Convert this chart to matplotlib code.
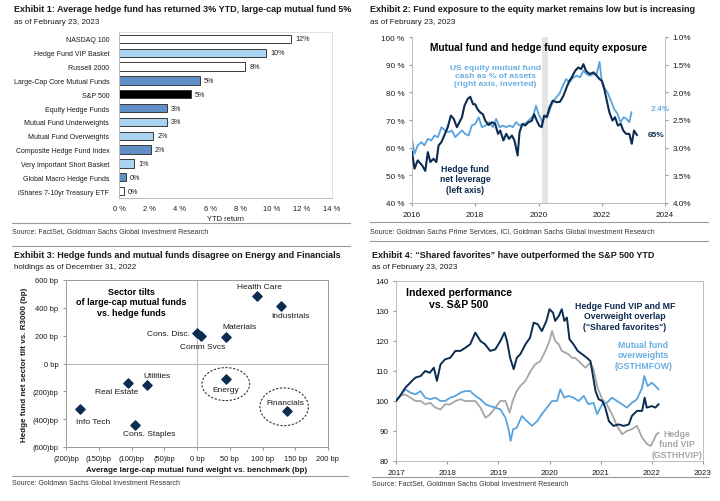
import matplotlib
matplotlib.use("Agg")
import matplotlib.pyplot as plt
from matplotlib.lines import Line2D
from matplotlib.patches import Ellipse
from matplotlib.ticker import FuncFormatter, MultipleLocator

plt.rcParams['font.family'] = ['Liberation Sans', 'DejaVu Sans']

# ---------------- Data ----------------
# Exhibit 1
ex1_names = ["NASDAQ 100", "Hedge Fund VIP Basket", "Russell 2000", "Large-Cap Core Mutual Funds",
             "S&P 500", "Equity Hedge Funds", "Mutual Fund Underweights", "Mutual Fund Overweights",
             "Composite Hedge Fund Index", "Very Important Short Basket", "Global Macro Hedge Funds",
             "iShares 7-10yr Treasury ETF"]
ex1_values = [11.3, 9.65, 8.3, 5.3, 4.7, 3.15, 3.15, 2.25, 2.1, 1.0, 0.45, 0.33]
ex1_labels = ["12%", "10%", "8%", "5%", "5%", "3%", "3%", "2%", "2%", "1%", "0%", "0%"]
ex1_kind = ["index", "hf", "index", "mf", "spx", "mf", "hf", "hf", "mf", "hf", "mf", "index"]

# Exhibit 2
hf_lev_t = [2016.0, 2016.08, 2016.18, 2016.32, 2016.42, 2016.5, 2016.58, 2016.68, 2016.77, 2016.84,
            2016.93, 2017.02, 2017.13, 2017.23, 2017.32, 2017.42, 2017.5, 2017.58, 2017.66, 2017.76,
            2017.84, 2017.93, 2018.0, 2018.07, 2018.16, 2018.24, 2018.32, 2018.42, 2018.53, 2018.63,
            2018.72, 2018.79, 2018.89, 2018.98, 2019.07, 2019.16, 2019.24, 2019.34, 2019.4, 2019.49,
            2019.58, 2019.68, 2019.79, 2019.86, 2019.95, 2020.02, 2020.1, 2020.18, 2020.26, 2020.35,
            2020.45, 2020.58, 2020.68, 2020.79, 2020.89, 2020.98, 2021.05, 2021.16, 2021.26, 2021.35,
            2021.42, 2021.5, 2021.61, 2021.74, 2021.84, 2021.93, 2022.0, 2022.08, 2022.16, 2022.24,
            2022.34, 2022.42, 2022.51, 2022.6, 2022.68, 2022.77, 2022.87, 2022.95, 2023.02, 2023.11]
hf_lev_v = [58.4, 52.4, 55.4, 53.6, 51.6, 58.4, 54.8, 56.0, 54.8, 60.8,
            62.0, 64.4, 67.4, 71.6, 70.4, 67.4, 69.2, 71.0, 75.2, 77.6,
            78.4, 75.7, 75.7, 73.9, 72.7, 72.1, 69.7, 68.2, 69.2, 68.6,
            65.0, 66.2, 62.6, 65.0, 63.2, 64.4, 62.6, 57.2, 65.6, 68.6,
            68.0, 69.2, 69.7, 72.1, 69.7, 68.0, 67.4, 71.6, 71.0, 74.6,
            77.0, 76.4, 76.6, 78.8, 81.8, 84.2, 85.4, 87.8, 89.0, 88.4,
            90.2, 87.8, 86.6, 87.2, 86.0, 84.8, 84.2, 81.2, 77.0, 72.8,
            69.8, 71.0, 68.0, 68.6, 66.2, 65.0, 65.0, 61.4, 66.2, 64.6]
mf_cash_t = [2016.0, 2016.08, 2016.18, 2016.3, 2016.39, 2016.5, 2016.61, 2016.71, 2016.82, 2016.93,
             2017.05, 2017.16, 2017.26, 2017.37, 2017.47, 2017.58, 2017.68, 2017.79, 2017.89, 2018.0,
             2018.11, 2018.21, 2018.32, 2018.45, 2018.56, 2018.66, 2018.77, 2018.87, 2018.98, 2019.08,
             2019.19, 2019.29, 2019.4, 2019.53, 2019.63, 2019.74, 2019.84, 2019.92, 2020.0, 2020.08,
             2020.19, 2020.26, 2020.35, 2020.45, 2020.56, 2020.66, 2020.77, 2020.87, 2020.98, 2021.1,
             2021.21, 2021.31, 2021.42, 2021.52, 2021.63, 2021.74, 2021.84, 2021.93, 2022.0, 2022.08,
             2022.18, 2022.29, 2022.39, 2022.5, 2022.59, 2022.7, 2022.78, 2022.87, 2022.94]
mf_cash_v = [2.84, 3.11, 2.96, 2.90, 2.96, 2.84, 2.87, 2.78, 2.81, 2.63,
             2.69, 2.72, 2.69, 2.81, 2.75, 2.69, 2.75, 2.78, 2.60, 2.57,
             2.45, 2.63, 2.60, 2.54, 2.63, 2.48, 2.63, 2.60, 2.63, 2.60,
             2.63, 2.54, 2.60, 2.57, 2.54, 2.48, 2.42, 2.24, 2.39, 2.48,
             2.72, 2.48, 2.33, 2.18, 2.09, 2.03, 1.88, 1.76, 1.82, 1.73,
             1.70, 1.73, 1.61, 1.67, 1.70, 1.67, 1.67, 1.45, 1.79, 1.91,
             2.00, 2.15, 2.30, 2.39, 2.54, 2.45, 2.48, 2.54, 2.36]

# Exhibit 3
sectors = ["Health Care", "Industrials", "Cons. Disc.", "Comm Svcs", "Materials", "Utilities",
           "Real Estate", "Energy", "Info Tech", "Cons. Staples", "Financials"]
mf_weight = [92, 128, 0.5, 6, 45, -76, -106, 44, -178, -95, 138]
hf_tilt = [483, 411, 218, 199, 194, -151, -139, -112, -330, -440, -344]

# Exhibit 4
sf_t = [2017.0, 2017.08, 2017.18, 2017.25, 2017.31, 2017.38, 2017.48, 2017.57, 2017.66, 2017.74,
        2017.8, 2017.87, 2017.96, 2018.06, 2018.16, 2018.26, 2018.36, 2018.45, 2018.55, 2018.65,
        2018.74, 2018.84, 2018.94, 2019.04, 2019.12, 2019.17, 2019.23, 2019.3, 2019.36, 2019.43,
        2019.53, 2019.62, 2019.69, 2019.77, 2019.85, 2019.94, 2020.0, 2020.07, 2020.11, 2020.18,
        2020.24, 2020.29, 2020.34, 2020.39, 2020.47, 2020.55, 2020.64, 2020.73, 2020.8, 2020.85,
        2020.9, 2020.96, 2021.03, 2021.09, 2021.16, 2021.25, 2021.35, 2021.45, 2021.55, 2021.61,
        2021.71, 2021.81, 2021.86, 2021.9, 2022.0, 2022.07, 2022.13]
sf_v = [100.0, 101.7, 104.4, 105.6, 106.7, 107.8, 108.3, 110.0, 109.4, 111.1,
        106.7, 112.2, 113.9, 114.4, 116.7, 116.7, 117.8, 118.9, 122.8, 120.0,
        118.9, 116.7, 117.2, 120.0, 122.8, 120.0, 114.4, 110.6, 114.4, 115.6,
        118.9, 121.1, 126.1, 125.6, 123.3, 126.7, 130.6, 129.4, 126.7, 128.3,
        130.6, 126.7, 127.8, 120.6, 118.9, 116.7, 115.6, 114.4, 113.3, 108.3,
        103.3, 100.6, 100.0, 97.8, 93.3, 91.7, 92.2, 91.7, 92.2, 95.0,
        96.7, 96.7, 101.1, 97.8, 98.3, 97.8, 98.9]
mfow_t = [2017.0, 2017.08, 2017.18, 2017.28, 2017.38, 2017.48, 2017.57, 2017.67, 2017.77, 2017.87,
          2017.96, 2018.06, 2018.16, 2018.26, 2018.35, 2018.45, 2018.55, 2018.65, 2018.75, 2018.84,
          2018.94, 2019.04, 2019.14, 2019.2, 2019.24, 2019.29, 2019.36, 2019.46, 2019.56, 2019.66,
          2019.76, 2019.85, 2019.95, 2020.05, 2020.15, 2020.21, 2020.29, 2020.37, 2020.47, 2020.57,
          2020.67, 2020.76, 2020.86, 2020.93, 2021.03, 2021.12, 2021.22, 2021.32, 2021.42, 2021.51,
          2021.61, 2021.71, 2021.81, 2021.85, 2021.92, 2022.0, 2022.07, 2022.13]
mfow_v = [100.0, 101.7, 103.9, 102.8, 102.2, 103.3, 101.1, 100.6, 101.1, 100.0,
          100.0, 101.1, 101.7, 102.8, 103.3, 103.3, 101.7, 100.6, 98.9, 98.3,
          97.8, 97.2, 94.4, 90.6, 86.7, 90.6, 91.1, 95.0, 93.3, 91.7,
          93.3, 95.6, 97.8, 100.0, 100.0, 103.9, 101.1, 101.7, 101.1, 100.0,
          101.7, 98.9, 99.4, 95.6, 98.9, 99.4, 101.1, 100.0, 98.9, 97.8,
          99.4, 100.6, 104.4, 108.3, 105.0, 106.1, 105.0, 103.9]
vip_t = [2017.0, 2017.08, 2017.18, 2017.28, 2017.38, 2017.48, 2017.57, 2017.67, 2017.77, 2017.87,
         2017.96, 2018.06, 2018.16, 2018.26, 2018.35, 2018.45, 2018.55, 2018.65, 2018.75, 2018.84,
         2018.94, 2019.04, 2019.14, 2019.22, 2019.28, 2019.36, 2019.43, 2019.53, 2019.63, 2019.72,
         2019.82, 2019.92, 2020.0, 2020.05, 2020.11, 2020.18, 2020.24, 2020.31, 2020.37, 2020.44,
         2020.5, 2020.6, 2020.7, 2020.8, 2020.86, 2020.94, 2021.03, 2021.12, 2021.22, 2021.32,
         2021.42, 2021.51, 2021.61, 2021.71, 2021.81, 2021.91, 2021.98, 2022.03, 2022.09, 2022.13]
vip_v = [100.0, 101.7, 102.2, 101.1, 100.0, 100.0, 98.9, 99.4, 97.8, 97.2,
         98.9, 98.9, 100.0, 100.6, 100.0, 100.0, 100.0, 97.8, 94.4, 95.6,
         97.8, 100.0, 100.0, 96.1, 100.0, 103.3, 105.0, 106.7, 110.0, 112.2,
         113.3, 116.7, 120.0, 123.3, 120.0, 118.9, 116.7, 116.1, 115.6, 114.4,
         114.4, 112.8, 111.1, 112.8, 110.6, 104.4, 100.6, 98.9, 95.6, 91.7,
         88.9, 90.0, 90.6, 91.7, 87.8, 85.6, 85.0, 86.7, 88.9, 89.4]

# ---------------- Styles ----------------
NAVY = "#0c2b50"
LBLUE = "#5aa3dc"
LBLUE_TXT = "#6aafe2"
GRAY = "#a6a6a6"
MBLUE = "#5f8fc6"
PALEBLUE = "#a9d3f1"
TXT = "#1a1a1a"

W, H = 720, 502
fig = plt.figure(figsize=(W / 100, H / 100), dpi=100)


def ax_px(l, t, r, b):
    return fig.add_axes([l / W, 1 - b / H, (r - l) / W, (b - t) / H])


def ftext(x, y, s, **kw):
    fig.text(x / W, 1 - y / H, s, **kw)


def hline(x0, x1, y, color="#9a9a9a", lw=0.8):
    fig.add_artist(Line2D([x0 / W, x1 / W], [1 - y / H, 1 - y / H], color=color, lw=lw))


TFS = 6.45  # title font size
SFS = 5.75  # subtitle
TKS = 5.4   # ticks
SRC = 5.05
LS = 1.22   # line spacing of multi-line annotations

# ---------- headers ----------
ftext(14, 10, "Exhibit 1: Average hedge fund has returned 3% YTD, large-cap mutual fund 5%",
      fontsize=TFS, fontweight="bold", va="center", color=TXT)
ftext(14, 22, "as of February 23, 2023", fontsize=SFS, va="center", color=TXT)
ftext(370, 10, "Exhibit 2: Fund exposure to the equity market remains low but is increasing",
      fontsize=TFS, fontweight="bold", va="center", color=TXT)
ftext(370, 22, "as of February 23, 2023", fontsize=SFS, va="center", color=TXT)
ftext(14, 255, "Exhibit 3: Hedge funds and mutual funds disagree on Energy and Financials",
      fontsize=TFS, fontweight="bold", va="center", color=TXT)
ftext(14, 268, "holdings as of December 31, 2022", fontsize=SFS, va="center", color=TXT)
ftext(372, 255, "Exhibit 4: \u201cShared favorites\u201d have outperformed the S&P 500 YTD",
      fontsize=TFS, fontweight="bold", va="center", color=TXT)
ftext(372, 268, "as of February 23, 2023", fontsize=SFS, va="center", color=TXT)

hline(12, 350, 224)
hline(12, 350, 247)
hline(370, 708, 223)
hline(370, 708, 242)
hline(12, 348, 477)
hline(372, 708, 478)
ftext(12, 232, "Source: FactSet, Goldman Sachs Global Investment Research", fontsize=SRC,
      va="center", color="#333333")
ftext(370, 232, "Source: Goldman Sachs Prime Services, ICI, Goldman Sachs Global Investment Research",
      fontsize=SRC, va="center", color="#333333")
ftext(12, 484, "Source: Goldman Sachs Global Investment Research", fontsize=SRC,
      va="center", color="#333333")
ftext(372, 484, "Source: FactSet, Goldman Sachs Global Investment Research", fontsize=SRC,
      va="center", color="#333333")

# ---------- Exhibit 1 ----------
ax1 = ax_px(119, 33, 332, 199)
colmap = {"index": "white", "hf": PALEBLUE, "mf": MBLUE, "spx": "black"}
ypos = list(range(len(ex1_names)))
ax1.barh(ypos, ex1_values, height=0.6, color=[colmap[k] for k in ex1_kind],
         edgecolor="#3a3a3a", linewidth=0.7)
for y, v, lab in zip(ypos, ex1_values, ex1_labels):
    ax1.annotate(lab, (v, y), xytext=(3, 0), textcoords="offset points", va="center",
                 ha="left", fontsize=5.2, color=TXT)
ax1.set_ylim(len(ex1_names) - 0.5, -0.5)
ax1.set_xlim(0, 14)
ax1.set_yticks(ypos)
ax1.set_yticklabels(ex1_names, fontsize=5.0, color=TXT)
ax1.xaxis.set_major_locator(MultipleLocator(2))
ax1.xaxis.set_major_formatter(FuncFormatter(lambda v, p: f"{v:.0f} %"))
ax1.tick_params(axis="x", labelsize=TKS, length=0, pad=5, colors=TXT)
ax1.tick_params(axis="y", length=0, pad=7)
for s in ["top", "right"]:
    ax1.spines[s].set_color("#dddddd")
    ax1.spines[s].set_linewidth(0.6)
ax1.spines["left"].set_color("#bbbbbb")
ax1.spines["bottom"].set_color("#bbbbbb")
ax1.spines["left"].set_linewidth(0.7)
ax1.spines["bottom"].set_linewidth(0.7)
ax1.set_xlabel("YTD return", fontsize=TKS, color=TXT, labelpad=2)

# ---------- Exhibit 2 ----------
ax2 = ax_px(412, 38, 665, 204)
ax2.axvspan(2020.1, 2020.31, color="#e4e4e4", lw=0, zorder=0)
ax2.plot(hf_lev_t, hf_lev_v, color=NAVY, lw=1.5, zorder=3)
ax2.set_xlim(2016, 2024)
ax2.set_ylim(40, 100)
ax2.set_xticks([2016, 2018, 2020, 2022, 2024])
ax2.yaxis.set_major_locator(MultipleLocator(10))
ax2.yaxis.set_major_formatter(FuncFormatter(lambda v, p: f"{v:.0f} %"))
ax2.tick_params(labelsize=TKS + 0.5, colors=TXT, length=2, color="#999999")
ax2r = ax2.twinx()
ax2r.plot(mf_cash_t, mf_cash_v, color=LBLUE, lw=1.3, zorder=2)
ax2r.set_ylim(4.0, 1.0)
ax2r.yaxis.set_major_locator(MultipleLocator(0.5))
ax2r.yaxis.set_major_formatter(FuncFormatter(lambda v, p: f"{v:.1f}%"))
ax2r.tick_params(labelsize=TKS + 0.5, colors=TXT, length=2, color="#999999")
ax2.set_zorder(ax2r.get_zorder() + 1)
ax2.patch.set_visible(False)
for a in (ax2, ax2r):
    for s in a.spines.values():
        s.set_color("#bbbbbb")
        s.set_linewidth(0.7)
    a.spines["top"].set_visible(False)
ax2.text(0.5, 0.94, "Mutual fund and hedge fund equity exposure", transform=ax2.transAxes,
         ha="center", va="center", fontsize=7.3, fontweight="bold", color="black")
ax2.text(2018.63, 86.0, "US equity mutual fund\ncash as % of assets\n(right axis, inverted)",
         ha="center", va="center", fontsize=6.1, fontweight="bold", color=LBLUE_TXT,
         linespacing=LS)
ax2.text(2017.68, 48.7, "Hedge fund\nnet leverage\n(left axis)", ha="center", va="center",
         fontsize=6.2, fontweight="bold", color=NAVY, linespacing=LS)
ax2r.annotate("2.4%", (mf_cash_t[-1], mf_cash_v[-1]), xytext=(14, 3), textcoords="offset points",
              ha="left", va="center", fontsize=6.0, fontweight="bold", color=LBLUE_TXT)
ax2.annotate("65%", (hf_lev_t[-1], hf_lev_v[-1]), xytext=(8, 0), textcoords="offset points",
             ha="left", va="center", fontsize=6.0, fontweight="bold", color=NAVY)

# ---------- Exhibit 3 ----------
ax3 = ax_px(66, 281, 328, 448)
ax3.axhline(0, color="#bbbbbb", lw=0.8, zorder=1)
ax3.axvline(0, color="#bbbbbb", lw=0.8, zorder=1)
ax3.scatter(mf_weight, hf_tilt, marker="D", s=22, color=NAVY, zorder=3)
ax3.set_xlim(-200, 200)
ax3.set_ylim(-600, 600)
ax3.xaxis.set_major_locator(MultipleLocator(50))
ax3.yaxis.set_major_locator(MultipleLocator(200))


def bpfmt(v, p):
    if v < 0:
        return f"({-v:.0f})bp"
    return f"{v:.0f} bp"


ax3.xaxis.set_major_formatter(FuncFormatter(bpfmt))
ax3.yaxis.set_major_formatter(FuncFormatter(bpfmt))
ax3.tick_params(labelsize=TKS, colors=TXT, length=2, color="#999999")
for s in ax3.spines.values():
    s.set_color("#999999")
    s.set_linewidth(0.7)
ax3.set_xlabel("Average large-cap mutual fund weight vs. benchmark (bp)", fontsize=5.8,
               fontweight="bold", color=TXT, labelpad=3)
ax3.set_ylabel("Hedge fund net sector tilt vs. R3000 (bp)", fontsize=5.8, fontweight="bold",
               color=TXT, labelpad=3)
# label offsets in pixels (dx right, dy down) and alignment
lab_off = {"Health Care": (2, -10, "center"), "Industrials": (10, 9, "center"),
           "Cons. Disc.": (-7, 0, "right"), "Comm Svcs": (2, 11, "center"),
           "Materials": (13, -10, "center"), "Utilities": (10, -9, "center"),
           "Real Estate": (-11, 9, "center"), "Energy": (0, 10, "center"),
           "Info Tech": (13, 12, "center"), "Cons. Staples": (14, 9, "center"),
           "Financials": (-2, -9, "center")}
for name, x, y in zip(sectors, mf_weight, hf_tilt):
    dx, dy, ha = lab_off[name]
    ax3.annotate(name, (x, y), xytext=(dx * 0.72, -dy * 0.72), textcoords="offset points",
                 ha=ha, va="center", fontsize=6.0, color=TXT)
    if name == "Energy":
        ax3.add_patch(Ellipse((x, y - 36), 73, 237, fill=False, ls=(0, (2, 1.5)),
                              lw=0.8, color="#333333"))
    if name == "Financials":
        ax3.add_patch(Ellipse((x - 5, y + 33), 74, 271, fill=False, ls=(0, (2, 1.5)),
                              lw=0.8, color="#333333"))
ax3.text(0.248, 0.87, "Sector tilts\nof large-cap mutual funds\nvs. hedge funds",
         transform=ax3.transAxes, ha="center", va="center", fontsize=6.5, fontweight="bold",
         color="black", linespacing=LS)

# ---------- Exhibit 4 ----------
ax4 = ax_px(396, 282, 703, 462)
ax4.plot(vip_t, vip_v, color=GRAY, lw=1.3, zorder=2)
ax4.plot(mfow_t, mfow_v, color=LBLUE, lw=1.3, zorder=3)
ax4.plot(sf_t, sf_v, color=NAVY, lw=1.4, zorder=4)
ax4.set_xlim(2017, 2023)
ax4.set_ylim(80, 140)
ax4.xaxis.set_major_locator(MultipleLocator(1))
ax4.yaxis.set_major_locator(MultipleLocator(10))
ax4.xaxis.set_major_formatter(FuncFormatter(lambda v, p: f"{v:.0f}"))
ax4.tick_params(labelsize=TKS + 0.4, colors=TXT, length=2, color="#999999")
for s in ax4.spines.values():
    s.set_color("#bbbbbb")
    s.set_linewidth(0.7)
ax4.text(0.205, 0.905, "Indexed performance\nvs. S&P 500", transform=ax4.transAxes,
         ha="center", va="center", fontsize=7.6, fontweight="bold", color="black",
         linespacing=1.2)
ax4.text(0.746, 0.806, "Hedge Fund VIP and MF\nOverweight overlap\n(\"Shared favorites\")",
         transform=ax4.transAxes, ha="center", va="center", fontsize=6.3, fontweight="bold",
         color=NAVY, linespacing=LS)
ax4.text(0.805, 0.59, "Mutual fund\noverweights\n(GSTHMFOW)", transform=ax4.transAxes,
         ha="center", va="center", fontsize=6.3, fontweight="bold", color=LBLUE_TXT,
         linespacing=LS)
ax4.text(0.915, 0.095, "Hedge\nfund VIP\n(GSTHHVIP)", transform=ax4.transAxes,
         ha="center", va="center", fontsize=6.3, fontweight="bold", color=GRAY,
         linespacing=LS)

fig.savefig("out.png", dpi=100)
